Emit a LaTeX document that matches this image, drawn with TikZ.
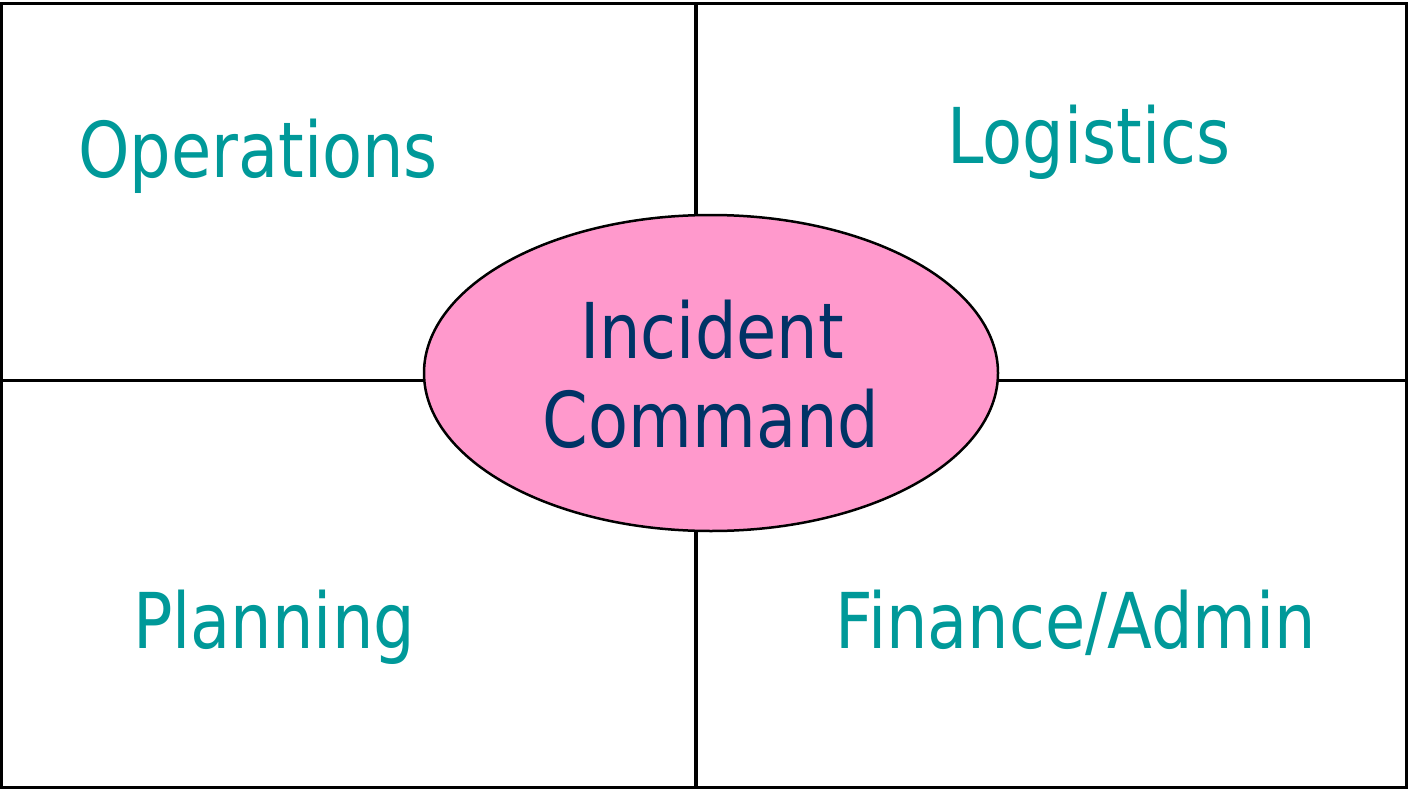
\documentclass[tikz,border=0pt]{standalone}
\usepackage{fontspec}
\usetikzlibrary{shapes.geometric}
\newfontfamily\tfont[FakeStretch=0.85]{DejaVu Sans}
\definecolor{teal1}{HTML}{009999}
\definecolor{navy1}{HTML}{003366}
\definecolor{pink1}{HTML}{FF99CC}
\tikzset{
  frame/.style={draw=black, line width=3.5pt},
  label1/.style={inner sep=0pt, anchor=base west, font=\tfont\fontsize{77}{90}\selectfont, text=teal1},
  label2/.style={inner sep=0pt, anchor=base, font=\tfont\fontsize{77}{90}\selectfont, text=navy1},
  center1/.style={ellipse, draw=black, line width=2.5pt, fill=pink1, minimum width=574pt, minimum height=316pt, inner sep=0pt},
}
\begin{document}
\begin{tikzpicture}[x=1pt,y=-1pt]
\useasboundingbox (0,0) rectangle (1408,789);
\node[frame, rectangle, minimum width=1405pt, minimum height=784pt, inner sep=0pt] (box) at (703.75,395.5) {};
\coordinate (top) at (696,3.5);
\coordinate (bot) at (696,787.5);
\coordinate (lft) at (1,380.5);
\coordinate (rgt) at (1406.5,380.5);
\node[center1] (ic) at (711,373) {};
\draw[frame] (top) -- (top |- ic.north);
\draw[frame] (bot) -- (bot |- ic.south);
\draw[frame] (lft) -- (lft -| ic.west);
\draw[frame] (rgt) -- (rgt -| ic.east);
\node[label1] (ops) at (78,178) {Operations};
\node[label1] (log) at (947,164) {Logistics};
\node[label1] (pla) at (133,648) {Planning};
\node[label1] (fin) at (835,648) {Finance/Admin};
\node[label2] (t1) at (712,358) {Incident};
\node[label2] (t2) at (711,447) {Command};
\end{tikzpicture}
\end{document}
